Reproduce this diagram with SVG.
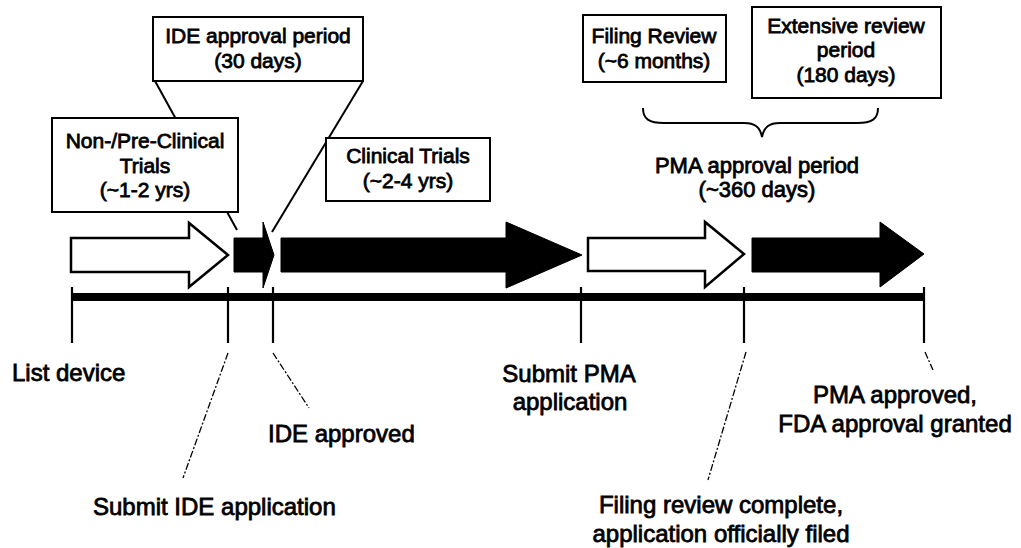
<svg xmlns="http://www.w3.org/2000/svg" width="1021" height="548" viewBox="0 0 1021 548">
  <defs>
    <style>
      .box { fill: #fff; stroke: #000; stroke-width: 2; }
      .txt { font-family: "Liberation Sans", Arial, sans-serif; fill: #000; stroke: #000; stroke-width: 0.8; }
      .bt { font-size: 21px; text-anchor: middle; }
      .lbl { font-size: 24px; }
      .mid { text-anchor: middle; }
      .callout { stroke: #000; stroke-width: 2; fill: none; }
      .leader { stroke: #000; stroke-width: 1.3; stroke-dasharray: 7 2 2 2; fill: none; }
      .tick { stroke: #000; stroke-width: 2.2; }
      .hollow { fill: #fff; stroke: #000; stroke-width: 2.5; stroke-linejoin: miter; }
      .solid { fill: #000; stroke: #000; stroke-width: 1; stroke-linejoin: round; }
    </style>
  </defs>
  <rect width="1021" height="548" fill="#fff"/>

  <!-- connectors: callout lines, leaders, timeline -->
  <g id="connectors">
    <line class="callout" x1="155" y1="81" x2="237" y2="230"/>
    <line class="callout" x1="363" y1="81" x2="272" y2="232"/>

    <line x1="71" y1="297" x2="924" y2="297" stroke="#000" stroke-width="8"/>
    <line class="tick" x1="72" y1="287" x2="72" y2="343"/>
    <line class="tick" x1="228" y1="287" x2="228" y2="343"/>
    <line class="tick" x1="273" y1="287" x2="273" y2="343"/>
    <line class="tick" x1="581" y1="287" x2="581" y2="343"/>
    <line class="tick" x1="744" y1="287" x2="744" y2="343"/>
    <line class="tick" x1="924" y1="287" x2="924" y2="343"/>

    <line class="leader" x1="228" y1="353" x2="183" y2="478"/>
    <line class="leader" x1="273" y1="353" x2="309" y2="408"/>
    <line class="leader" x1="746" y1="352" x2="708" y2="480"/>
    <line class="leader" x1="925" y1="352" x2="933" y2="370"/>

    <path class="callout" d="M643,108 C643,119 649,123 664,123 L744,123 C755,123 760,127 762,137 C764,127 769,123 780,123 L857,123 C872,123 878,119 878,108"/>
  </g>

  <!-- phase arrows -->
  <g id="arrow-preclinical">
    <path class="hollow" d="M71,238 H189 V223 L228,255 L189,287 V272 H71 Z"/>
  </g>
  <g id="arrow-ide">
    <path class="solid" d="M234,238 H263 V222 L274,255 L263,288 V272 H234 Z"/>
  </g>
  <g id="arrow-clinical">
    <path class="solid" d="M281,238 H506 V222 L582,255 L506,288 V272 H281 Z"/>
  </g>
  <g id="arrow-filing">
    <path class="hollow" d="M588,238 H705 V222 L744,254 L705,287 V271 H588 Z"/>
  </g>
  <g id="arrow-review">
    <path class="solid" d="M752,238 H880 V222 L924,254 L880,287 V272 H752 Z"/>
  </g>

  <!-- phase boxes -->
  <g id="box-ide-period">
    <rect class="box" x="153" y="17" width="210" height="64"/>
    <text class="txt bt" x="258" y="43">IDE approval period</text>
    <text class="txt bt" x="258" y="68">(30 days)</text>
  </g>
  <g id="box-preclinical">
    <rect class="box" x="52" y="118" width="186" height="94"/>
    <text class="txt bt" x="145" y="148">Non-/Pre-Clinical</text>
    <text class="txt bt" x="145" y="173">Trials</text>
    <text class="txt bt" x="145" y="197">(~1-2 yrs)</text>
  </g>
  <g id="box-clinical">
    <rect class="box" x="326" y="138" width="164" height="63"/>
    <text class="txt bt" x="408" y="163">Clinical Trials</text>
    <text class="txt bt" x="408" y="188">(~2-4 yrs)</text>
  </g>
  <g id="box-filing">
    <rect class="box" x="583" y="15" width="143" height="67"/>
    <text class="txt bt" x="654" y="43">Filing Review</text>
    <text class="txt bt" x="654" y="68">(~6 months)</text>
  </g>
  <g id="box-extensive">
    <rect class="box" x="752" y="7" width="189" height="91"/>
    <text class="txt bt" x="846" y="33">Extensive review</text>
    <text class="txt bt" x="846" y="57">period</text>
    <text class="txt bt" x="846" y="82">(180 days)</text>
  </g>
  <g id="pma-period">
    <text class="txt" x="757" y="173" font-size="22" text-anchor="middle">PMA approval period</text>
    <text class="txt" x="757" y="197" font-size="22" text-anchor="middle">(~360 days)</text>
  </g>

  <!-- milestone labels -->
  <g id="ms-list">
    <text class="txt lbl" x="12" y="381">List device</text>
  </g>
  <g id="ms-submit-ide">
    <text class="txt lbl" x="93" y="515">Submit IDE application</text>
  </g>
  <g id="ms-ide-approved">
    <text class="txt lbl" x="268" y="442">IDE approved</text>
  </g>
  <g id="ms-submit-pma">
    <text class="txt lbl mid" x="569" y="382">Submit PMA</text>
    <text class="txt lbl mid" x="570" y="410">application</text>
  </g>
  <g id="ms-filed">
    <text class="txt lbl mid" x="721" y="513">Filing review complete,</text>
    <text class="txt lbl mid" x="721" y="542">application officially filed</text>
  </g>
  <g id="ms-approved">
    <text class="txt lbl mid" x="895" y="403">PMA approved,</text>
    <text class="txt lbl mid" x="895" y="432">FDA approval granted</text>
  </g>
</svg>
